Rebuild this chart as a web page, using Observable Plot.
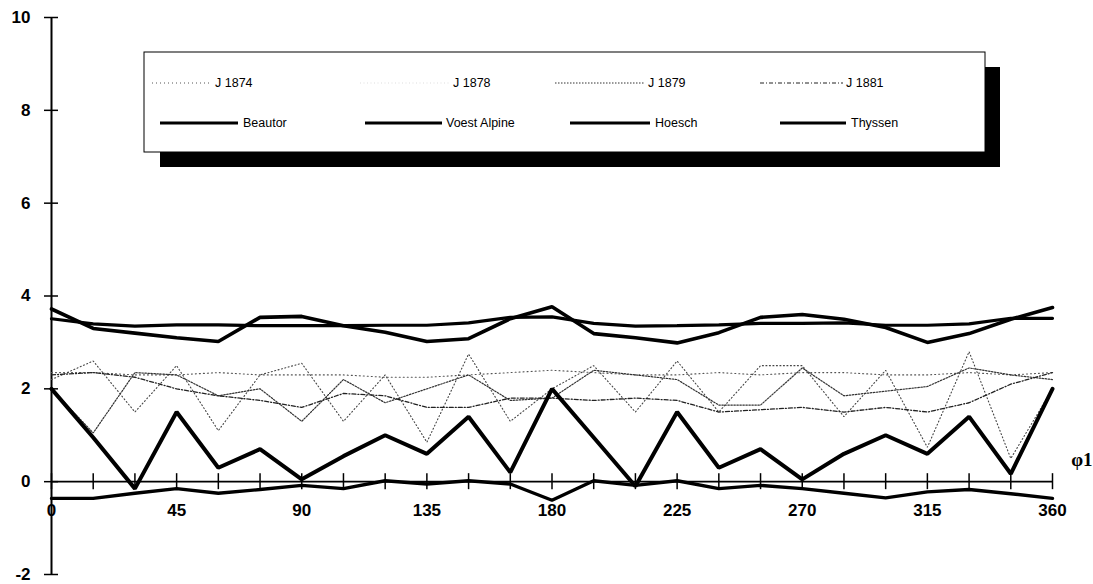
<!DOCTYPE html>
<html>
<head>
<meta charset="utf-8">
<script src="https://cdn.jsdelivr.net/npm/d3@7"></script>
<script src="https://cdn.jsdelivr.net/npm/@observablehq/plot@0.6"></script>
<style>
  html, body { margin: 0; padding: 0; background: #fff; }
  #chart { position: relative; width: 1093px; height: 584px; }
</style>
</head>
<body>
<div id="chart"></div>
<script>
// ---- data ----
const phi = [0,15,30,45,60,75,90,105,120,135,150,165,180,195,210,225,240,255,270,285,300,315,330,345,360];

const j1874 = [2.35,2.35,2.3,2.3,2.35,2.3,2.3,2.3,2.25,2.25,2.3,2.35,2.4,2.35,2.3,2.3,2.35,2.3,2.35,2.35,2.3,2.3,2.35,2.3,2.35];
const j1878 = [2.2,2.6,1.5,2.5,1.1,2.3,2.55,1.3,2.3,0.85,2.75,1.3,2.0,2.5,1.5,2.6,1.5,2.5,2.5,1.4,2.4,0.74,2.8,0.5,2.0];
const j1879 = [2.0,1.05,2.35,2.3,1.85,2.0,1.3,2.2,1.7,2.0,2.3,1.75,1.8,2.4,2.3,2.2,1.65,1.65,2.45,1.85,1.95,2.05,2.45,2.3,2.2];
const j1881 = [2.3,2.35,2.25,2.0,1.85,1.75,1.6,1.9,1.85,1.6,1.6,1.8,1.8,1.75,1.8,1.75,1.5,1.55,1.6,1.5,1.6,1.5,1.7,2.1,2.35];

const beautor = [2.0,0.95,-0.15,1.5,0.3,0.7,0.05,0.55,1.0,0.6,1.4,0.2,2.0,0.95,-0.1,1.5,0.3,0.7,0.05,0.6,1.0,0.6,1.4,0.17,2.0];
const voest   = [3.51,3.4,3.35,3.38,3.38,3.36,3.36,3.36,3.37,3.37,3.42,3.54,3.55,3.41,3.35,3.36,3.38,3.41,3.41,3.42,3.37,3.37,3.4,3.52,3.52];
const hoesch  = [3.72,3.3,3.2,3.1,3.02,3.54,3.56,3.36,3.22,3.02,3.08,3.51,3.77,3.19,3.1,2.99,3.21,3.54,3.6,3.5,3.32,3.0,3.19,3.5,3.75];
const thyssen = [-0.36,-0.36,-0.25,-0.15,-0.25,-0.17,-0.08,-0.15,0.02,-0.05,0.02,-0.05,-0.4,0.02,-0.08,0.02,-0.15,-0.08,-0.15,-0.25,-0.35,-0.22,-0.17,-0.26,-0.36];

const xTickLabels = [0,45,90,135,180,225,270,315,360];
const xMinorTicks = phi;
const yTickLabels = [-2,0,2,4,6,8,10];

const seriesNames = ["J 1874","J 1878","J 1879","J 1881","Beautor","Voest Alpine","Hoesch","Thyssen"];
const seriesValues = [j1874,j1878,j1879,j1881,beautor,voest,hoesch,thyssen];
const seriesStyle = {
  "J 1874":      {stroke: "#555", strokeWidth: 1.1, dash: "1,3"},
  "J 1878":      {stroke: "#444", strokeWidth: 1.1, dash: "1,2.5"},
  "J 1879":      {stroke: "#333", strokeWidth: 1.2, dash: "1.5,1.5"},
  "J 1881":      {stroke: "#222", strokeWidth: 1.3, dash: "4,2,1,2"},
  "Beautor":     {stroke: "#000", strokeWidth: 4, dash: null},
  "Voest Alpine":{stroke: "#000", strokeWidth: 3.2, dash: null},
  "Hoesch":      {stroke: "#000", strokeWidth: 3.6, dash: null},
  "Thyssen":     {stroke: "#000", strokeWidth: 3.4, dash: null}
};

const rows = seriesNames.map((name, i) => phi.map((p, j) => ({phi: p, value: seriesValues[i][j], series: name})));

const font = "'Liberation Sans', Arial, sans-serif";

const lineMarks = rows.map(r => {
  const s = seriesStyle[r[0].series];
  return Plot.line(r, {x: "phi", y: "value", stroke: s.stroke, strokeWidth: s.strokeWidth,
    strokeDasharray: s.dash || undefined, strokeLinejoin: "miter", curve: "linear"});
});

const chart = Plot.plot({
  width: 1093,
  height: 584,
  marginLeft: 51,
  marginRight: 41,
  marginTop: 17,
  marginBottom: 10,
  x: {domain: [0, 360], axis: null},
  y: {domain: [-2, 10], axis: null},
  style: {background: "#fff", fontFamily: font},
  marks: [
    // axes lines
    Plot.ruleX([0], {stroke: "#000", strokeWidth: 2}),
    Plot.ruleY([0], {stroke: "#000", strokeWidth: 1.6}),
    // ticks on y axis (crossing)
    Plot.ruleY(yTickLabels, {y: d => d, x1: 0, x2: 0, insetLeft: -7, insetRight: -7, stroke: "#000", strokeWidth: 1.5}),
    // ticks on x axis (crossing)
    Plot.ruleX(xMinorTicks, {x: d => d, y1: 0, y2: 0, insetTop: -8, insetBottom: -8, stroke: "#000", strokeWidth: 1.5}),
    // data lines
    ...lineMarks,
    // tick labels
    Plot.text(xTickLabels, {x: d => d, y: 0, dy: 29, text: d => String(d), fontSize: 17, fontWeight: "bold", fill: "#000", textAnchor: "middle"}),
    Plot.text(yTickLabels, {x: 0, y: d => d, dx: -21, text: d => String(d), fontSize: 17, fontWeight: "bold", fill: "#000", textAnchor: "end"}),
    Plot.text(["φ1"], {x: 360, y: 0, dx: 40, dy: -22, text: d => d, fontSize: 19, fontWeight: "bold", textAnchor: "end", fontFamily: "'Liberation Serif', 'DejaVu Serif', serif", fill: "#000"})
  ]
});

document.getElementById("chart").appendChild(chart);

// ---- legend box with drop shadow ----
const svg = d3.select(chart);
const lg = svg.append("g").attr("font-family", font).attr("text-anchor", "start");
lg.append("rect").attr("x", 160).attr("y", 67).attr("width", 840).attr("height", 100).attr("fill", "#000");
lg.append("rect").attr("x", 144).attr("y", 52).attr("width", 841).attr("height", 100).attr("fill", "#fff").attr("stroke", "#000").attr("stroke-width", 1);

const legendPos = [
  {name: "J 1874", x1: 152, x2: 212, tx: 215, y: 83},
  {name: "J 1878", x1: 360, x2: 450, tx: 453, y: 83},
  {name: "J 1879", x1: 555, x2: 645, tx: 648, y: 83},
  {name: "J 1881", x1: 760, x2: 843, tx: 846, y: 83},
  {name: "Beautor", x1: 160, x2: 238, tx: 243, y: 123},
  {name: "Voest Alpine", x1: 365, x2: 442, tx: 446, y: 123},
  {name: "Hoesch", x1: 570, x2: 650, tx: 655, y: 123},
  {name: "Thyssen", x1: 780, x2: 846, tx: 851, y: 123}
];
legendPos.forEach(p => {
  const s = seriesStyle[p.name];
  const ln = lg.append("line").attr("x1", p.x1).attr("x2", p.x2).attr("y1", p.y).attr("y2", p.y)
    .attr("stroke", p.name === "J 1878" ? "#ddd" : s.stroke)
    .attr("stroke-width", s.strokeWidth > 2 ? 3.2 : 1);
  if (s.dash) ln.attr("stroke-dasharray", s.dash);
  lg.append("text").attr("x", p.tx).attr("y", p.y).attr("dy", "0.35em")
    .attr("text-anchor", "start")
    .attr("font-size", 12.5).attr("fill", "#000").text(p.name);
});
</script>
</body>
</html>
